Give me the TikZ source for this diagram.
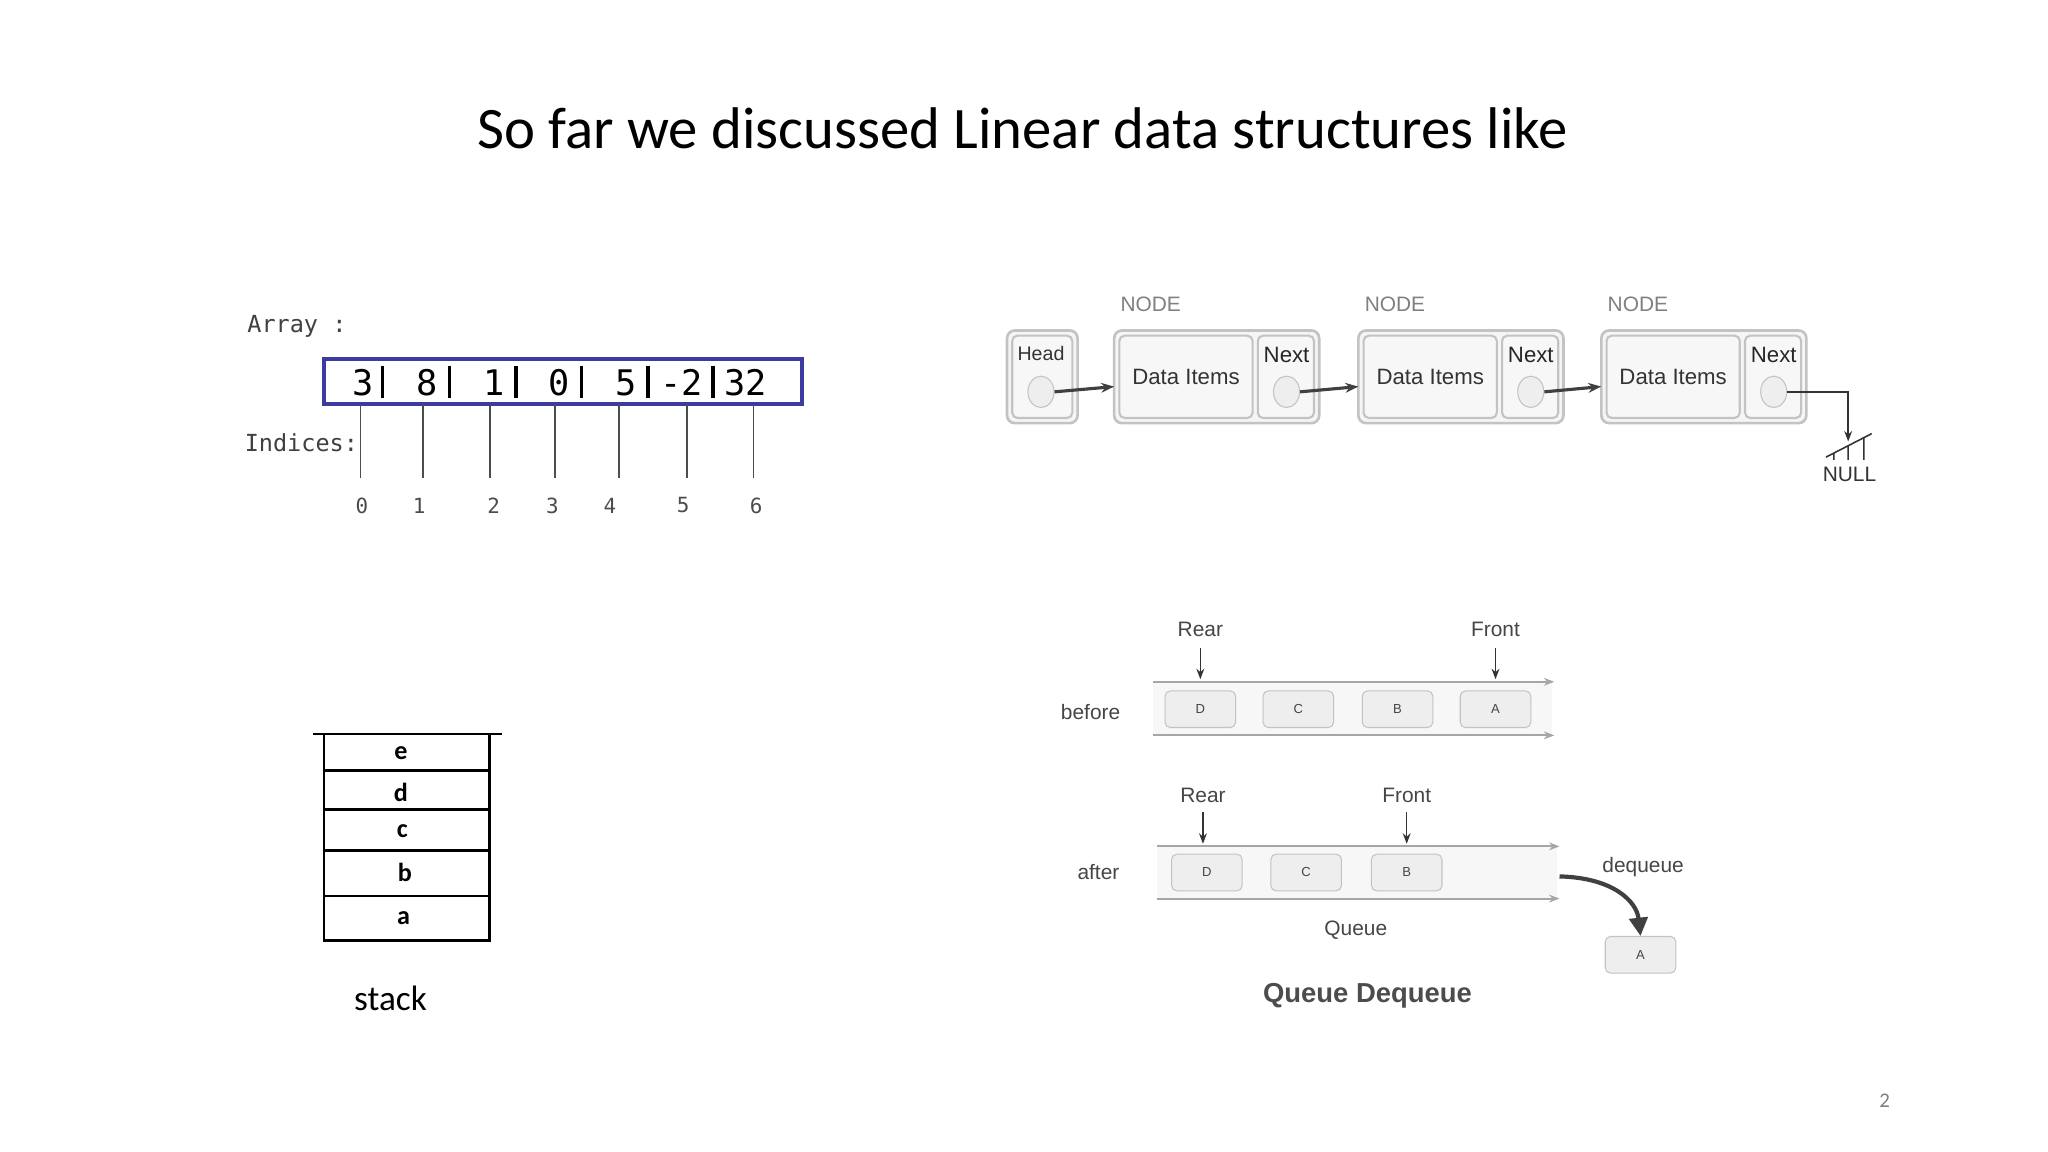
\documentclass[tikz,border=0pt]{standalone}
\usepackage{fontspec}
\setmainfont{Carlito}
\newfontfamily\mono{DejaVu Sans Mono}
\newfontfamily\arial{Liberation Sans}
\usetikzlibrary{arrows.meta,shapes.geometric}
\definecolor{boxg}{RGB}{238,238,238}
\definecolor{edgeg}{RGB}{195,195,195}
\definecolor{txtg}{RGB}{70,70,70}
\definecolor{arrblue}{RGB}{60,60,160}
\tikzset{
  lbl/.style={inner sep=0pt,font=\arial\fontsize{8}{10}\selectfont,text=txtg},
  outerbox/.style={draw=edgeg,fill=boxg!60,rounded corners=3pt,line width=1pt},
  innerbox/.style={draw=edgeg,fill=white!97!black,rounded corners=2pt,line width=0.8pt},
  ptr/.style={draw=edgeg,fill=boxg,ellipse,minimum width=10pt,minimum height=12pt,inner sep=0pt},
  qbox/.style={draw=edgeg,fill=boxg,rounded corners=2pt,minimum width=27pt,minimum height=14pt,inner sep=0pt,font=\arial\fontsize{5}{6}\selectfont,text=txtg},
  qline/.style={draw=gray!70,line width=0.8pt,-{Stealth[length=4pt]}},
  dark/.style={draw=black!75,line width=1.2pt,-{Stealth[length=5pt]}},
  thin/.style={draw=black!80,line width=0.6pt,-{Stealth[length=4pt]}},
  idx/.style={inner sep=0pt,font=\mono\fontsize{8}{9}\selectfont,text=black!70},
  cell/.style={inner sep=0pt,font=\mono\fontsize{13.5}{15}\selectfont},
  stk/.style={inner sep=0pt,font=\bfseries\fontsize{10}{11}\selectfont}
}
\begin{document}
\begin{tikzpicture}[x=0.5pt,y=-0.5pt]
\useasboundingbox[fill=white] (0,0) rectangle (1568,882);
\node[inner sep=0pt,font=\fontsize{22.5}{26}\selectfont] (title) at (783,98) {So far we discussed Linear data structures like};
% Array
\node[anchor=west,inner sep=0pt,font=\mono\fontsize{9}{10}\selectfont,text=black!75] (arrlbl) at (189,250) {Array :};
\node[anchor=west,inner sep=0pt,font=\mono\fontsize{9}{10}\selectfont,text=black!75] (indlbl) at (187,339) {Indices:};
\draw[arrblue,line width=1.5pt] (248,275) rectangle (614,309);
\foreach \x/\v/\n in {278/3/0,327/8/1,378/1/2,428/0/3,479/5/4,522/-2/5,571/32/6}
  \node[cell] (c\n) at (\x,293) {\v};
\foreach \x in {293,344,395,445,496,546}
  \draw[line width=1.3pt] (\x,280) -- (\x,305);
\foreach \x/\xi/\n in {276/277/0,324/321/1,375/378/2,425/423/3,474/467/4,526/523/5,577/579/6}{
  \coordinate (t\n) at (\x,309);
  \node[idx] (i\n) at (\xi,387) {\n};
  \draw[black!70,line width=0.6pt] (t\n) -- (\x,366);
}
% Linked list
\draw[outerbox] (771,253) rectangle (825,324);
\draw[innerbox] (775,257) rectangle (821,320);
\node[lbl,font=\arial\fontsize{7.5}{9}\selectfont,text=black!80] (headlbl) at (797,271) {Head};
\node[ptr] (p0) at (797,300) {};
\foreach \xo/\k in {853/1,1040/2,1226/3}{
  \draw[outerbox] (\xo,253) rectangle ({\xo+157},324);
  \node[innerbox,minimum width=51pt,minimum height=31.5pt,inner sep=0pt,font=\arial\fontsize{8.5}{10}\selectfont,text=black!80] (d\k) at ({\xo+55},288.5) {Data Items};
  \draw[innerbox] ({\xo+110},257) rectangle ({\xo+153},320);
  \node[lbl,font=\arial\fontsize{8.5}{10}\selectfont,text=black!85] (nx\k) at ({\xo+132},272) {Next};
  \node[ptr] (p\k) at ({\xo+132},300) {};
  \node[lbl,text=gray] (nl\k) at ({\xo+28},233) {NODE};
  \coordinate (in\k) at (\xo,296);
}
\draw[dark] (p0.east) -- (in1);
\draw[dark] (p1.east) -- (in2);
\draw[dark] (p2.east) -- (in3);
\coordinate (gnd) at (1415,338);
\draw[thin] (p3.east) -| (gnd);
\draw[black!80,line width=0.6pt] (1398,350) -- (1433,332) (1404,347) -- (1404,352) (1415,341)--(1415,352) (1427,335)--(1427,352);
\node[lbl,text=black!80] (null) at (1416,363) {NULL};
% Queue before
\fill[boxg!50] (883,522) rectangle (1188,563);
\draw[qline] (883,522) -- (1190,522);
\draw[qline] (883,563) -- (1190,563);
\foreach \x/\l in {919/D,994/C,1070/B,1145/A}
  \node[qbox] (b\l) at (\x,543) {\l};
\node[lbl] (rear1) at (919,482) {Rear};
\node[lbl] (front1) at (1145,482) {Front};
\coordinate (r1s) at (919,496);
\coordinate (f1s) at (1145,496);
\draw[thin] (r1s) -- (919,520);
\draw[thin] (f1s) -- (1145,520);
\node[lbl] (before) at (835,545) {before};
% Queue after
\fill[boxg!50] (886,648) rectangle (1192,688);
\draw[qline] (886,648) -- (1194,648);
\draw[qline] (886,688) -- (1194,688);
\foreach \x/\l in {924/D,1000/C,1077/B}
  \node[qbox] (a\l) at (\x,668) {\l};
\node[lbl] (rear2) at (921,609) {Rear};
\node[lbl] (front2) at (1077,609) {Front};
\coordinate (r2s) at (921,622);
\coordinate (f2s) at (1077,622);
\draw[thin] (r2s) -- (921,646);
\draw[thin] (f2s) -- (1077,646);
\node[lbl] (after) at (841,668) {after};
\node[lbl] (deq) at (1258,664) {dequeue};
\node[qbox] (aA) at (1256,731) {A};
\coordinate (qout) at (1194,671);
\draw[draw=black!75,line width=1.6pt,-{Triangle[length=7pt,width=7pt]}] (qout) .. controls (1235,672) and (1253,690) .. (aA.north);
\node[lbl] (qlbl) at (1038,712) {Queue};
\node[lbl,font=\arial\bfseries\fontsize{10.5}{12}\selectfont,text=black!70] (qd) at (1047,762) {Queue Dequeue};
% Stack
\draw[line width=1pt] (240,562) -- (384,562);
\draw[line width=1pt] (248,562) -- (248,720) -- (375,720) -- (375,562);
\foreach \y in {590,620,651,686} \draw[line width=1pt] (248,\y) -- (375,\y);
\node[stk] (se) at (307,577) {e};
\node[stk] (sd) at (307,607) {d};
\node[stk] (sc) at (308,636) {c};
\node[stk] (sb) at (310,668) {b};
\node[stk] (sa) at (309,703) {a};
\node[inner sep=0pt,font=\fontsize{13.5}{15}\selectfont] (stack) at (299,764) {stack};
\node[inner sep=0pt,font=\fontsize{8}{9}\selectfont,text=gray] (page) at (1443,843) {2};
\end{tikzpicture}
\end{document}
